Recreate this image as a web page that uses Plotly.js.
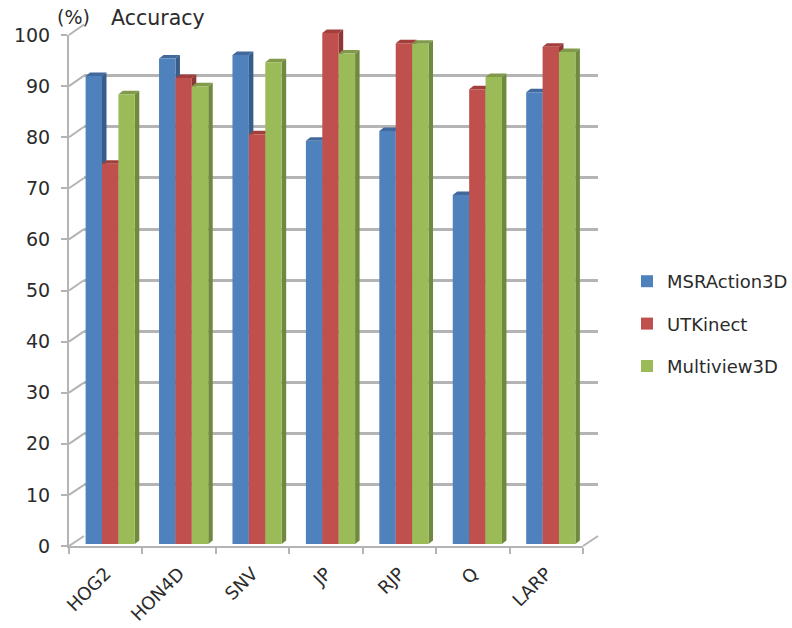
<!DOCTYPE html>
<html>
<head>
<meta charset="utf-8">
<script src="https://cdn.plot.ly/plotly-3.0.1.min.js"></script>
<style>html,body{margin:0;padding:0;background:#fff}#c{width:792px;height:628px}</style>
</head>
<body>
<div id="c"></div>
<script>
const categories = ["HOG2","HON4D","SNV","JP","RJP","Q","LARP"];
const seriesNames = ["MSRAction3D","UTKinect","Multiview3D"];
const msrAction3D = [91.6,95,95.7,78.9,80.8,68.3,88.4];
const utKinect = [74.4,91.2,80.2,100,98,89,97.3];
const multiview3D = [88,89.6,94.3,96,97.9,91.4,96.3];
const frontColors = ["#4f81bd","#c0504d","#9bbb59"];
const sideColors = ["#385d8a","#8c3836","#6f8a3e"];
const topColors = ["#41699b","#a03f3c","#80994a"];
const seriesValues = [msrAction3D,utKinect,multiview3D];

const W=792,H=628;
const dx=p=>[p[0]/W,p[1]/W], dy=p=>[1-p[0]/H,1-p[1]/H];
const fx=[69,583], fy=[546,35];         // front axes box in pixels
const bx=[84,598], by=[536,24.5];       // back wall
const sx=[73.5,587.5];                  // bar box
const pxPerVal=5.11, barBase=544, barRangeMax=105;
const sy=[barBase,barBase-barRangeMax*pxPerVal];
const pxPerCat=(sx[1]-sx[0])/7;
const depthX=4.5/pxPerCat, depthY=3.5/pxPerVal;
const gap=0.33, barW=(1-gap)/3;
const grey="#b4b4b4", ink="#2b2b2b", font="DejaVu Sans";

const traces=[];
seriesValues.forEach((vals,s)=>{
  const sideX=[],sideY=[],topX=[],topY=[];
  vals.forEach((v,i)=>{
    const l=i-(1-gap)/2+s*barW, r=l+barW;
    sideX.push(r,r+depthX,r+depthX,r,r,null);
    sideY.push(0,depthY,v+depthY,v,0,null);
    topX.push(l,l+depthX,r+depthX,r,l,null);
    topY.push(v,v+depthY,v+depthY,v,v,null);
  });
  [[sideX,sideY,sideColors[s]],[topX,topY,topColors[s]]].forEach(t=>{
    traces.push({type:"scatter",mode:"lines",x:t[0],y:t[1],xaxis:"x3",yaxis:"y3",fill:"toself",
      fillcolor:t[2],line:{width:0,color:t[2]},showlegend:false,hoverinfo:"skip",cliponaxis:false,connectgaps:false});
  });
});
seriesValues.forEach((vals,s)=>{
  traces.push({type:"bar",name:seriesNames[s],x:categories,y:vals,xaxis:"x4",yaxis:"y4",
    marker:{color:frontColors[s],line:{width:0}},legendgroup:seriesNames[s]});
});
traces.push({type:"scatter",mode:"markers",x:categories,y:categories.map(()=>null),xaxis:"x2",yaxis:"y2",showlegend:false,hoverinfo:"skip"});
traces.unshift({type:"scatter",mode:"markers",x:[0],y:[null],xaxis:"x",yaxis:"y",showlegend:false,hoverinfo:"skip"});

const seg=(x0,y0,x1,y1)=>({type:"line",xref:"paper",yref:"paper",x0:x0/W,x1:x1/W,y0:1-y0/H,y1:1-y1/H,layer:"below",line:{color:grey,width:2}});
const shapes=[];
for(let t=0;t<=10;t++){
  const yF=fy[0]+(fy[1]-fy[0])*t/10, yB=by[0]+(by[1]-by[0])*t/10;
  shapes.push(seg(fx[0],yF,bx[0],yB));
}
shapes.push(seg(fx[1],fy[0],bx[1],by[0]));

const layout={
  width:W,height:H,margin:{l:0,r:0,t:0,b:0,pad:0,autoexpand:false},paper_bgcolor:"#fff",plot_bgcolor:"rgba(0,0,0,0)",
  font:{family:font,color:ink,size:18},
  barmode:"group",bargap:gap,bargroupgap:0,showlegend:true,
  legend:{x:627/W,y:1-263/H,xanchor:"left",yanchor:"top",traceorder:"grouped",tracegroupgap:16,itemwidth:30,
    font:{family:font,size:18,color:ink},bgcolor:"rgba(0,0,0,0)",borderwidth:0},
  xaxis:{domain:dx(bx),range:[0,1],anchor:"y",showgrid:false,zeroline:false,showticklabels:false,ticks:"",showline:false},
  yaxis:{domain:dy(by),range:[0,100],anchor:"x",dtick:10,showgrid:true,gridcolor:grey,gridwidth:2.5,zeroline:false,showticklabels:false,ticks:"",showline:false},
  xaxis2:{domain:dx(fx),type:"category",categoryorder:"array",categoryarray:categories,range:[-0.5,6.5],anchor:"y2",tickson:"boundaries",
    ticks:"outside",ticklen:6,tickwidth:2,tickcolor:grey,showline:true,linecolor:grey,linewidth:2,showgrid:false,zeroline:false,
    tickangle:-45,ticklabelstandoff:8,tickfont:{family:font,size:18,color:ink}},
  yaxis2:{domain:dy(fy),range:[0,100],anchor:"x2",dtick:10,ticks:"outside",ticklen:6,tickwidth:2,tickcolor:grey,showline:true,linecolor:grey,linewidth:2,
    showgrid:false,zeroline:false,ticklabelstandoff:7,tickfont:{family:font,size:19,color:ink}},
  xaxis3:{domain:dx(sx),range:[-0.5,6.5],anchor:"y3",visible:false},
  yaxis3:{domain:dy(sy),range:[0,barRangeMax],anchor:"x3",visible:false},
  xaxis4:{domain:dx(sx),type:"category",categoryorder:"array",categoryarray:categories,range:[-0.5,6.5],anchor:"y4",visible:false},
  yaxis4:{domain:dy(sy),range:[0,barRangeMax],anchor:"x4",visible:false},
  shapes:shapes,
  annotations:[
    {xref:"paper",yref:"paper",x:73/W,y:1-17/H,text:"(%)",showarrow:false,font:{family:font,size:19,color:ink},xanchor:"center",yanchor:"middle"},
    {xref:"paper",yref:"paper",x:158/W,y:1-18/H,text:"Accuracy",showarrow:false,font:{family:font,size:20.5,color:ink},xanchor:"center",yanchor:"middle"}
  ]
};
Plotly.newPlot("c",traces,layout,{displayModeBar:false,responsive:false});
</script>
</body>
</html>
